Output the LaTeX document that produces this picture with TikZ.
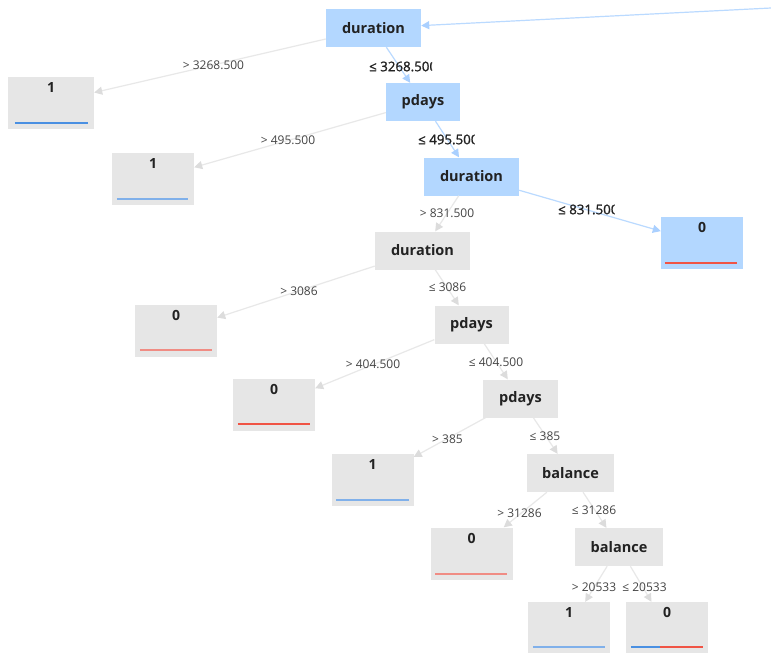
\documentclass[tikz,border=0pt]{standalone}
\usepackage{fontspec}
\setmainfont{Open Sans}
\newfontfamily\condfont[FakeBold=1.3]{Open Sans}
\usetikzlibrary{arrows.meta,calc}

\definecolor{nodeblue}{RGB}{179,215,255}
\definecolor{nodegray}{RGB}{230,230,230}
\definecolor{edgegray}{RGB}{232,232,232}
\definecolor{tipgray}{RGB}{220,220,220}
\definecolor{edgeblue}{RGB}{186,218,255}
\definecolor{tipblue}{RGB}{170,208,255}
\definecolor{ink}{RGB}{34,34,34}
\definecolor{labelink}{RGB}{68,68,68}
\definecolor{barblue}{RGB}{74,144,226}
\definecolor{barbluelight}{RGB}{128,176,234}
\definecolor{barred}{RGB}{240,84,69}
\definecolor{barredlight}{RGB}{240,140,132}

\tikzset{
  split/.style={rectangle, inner sep=0pt, minimum height=38,
    font=\fontsize{14.5}{16}\selectfont\bfseries, text=ink},
  splitblue/.style={split, fill=nodeblue},
  splitgray/.style={split, fill=nodegray},
  leafbox/.style={rectangle, inner sep=0pt, minimum width=82, minimum height=52},
  leafgray/.style={leafbox, fill=nodegray},
  leafblue/.style={leafbox, fill=nodeblue},
  leafnum/.style={inner sep=0pt, font=\fontsize{14}{16}\selectfont\bfseries, text=ink},
  bar/.style={line width=2pt},
  edgeg/.style={draw=edgegray, line width=1.2pt,
    -{Triangle[length=8pt,width=8pt,color=tipgray]}},
  edgeb/.style={draw=edgeblue, line width=1.2pt,
    -{Triangle[length=8pt,width=8pt,color=tipblue]}},
  cond/.style={inner sep=0pt, font=\fontsize{12}{14}\selectfont, text=labelink},
  condb/.style={inner sep=0pt, font=\fontsize{13.3}{15}\condfont, text=ink},
}

\begin{document}
\begin{tikzpicture}[x=1pt,y=-1pt]
\useasboundingbox[fill=white] (0,0) rectangle (771,653);

% split nodes
\node[splitblue, minimum width=95] (d1) at (373.5,28) {duration};
\node[splitblue, minimum width=74] (p1) at (423,102) {pdays};
\node[splitblue, minimum width=95] (d2) at (471.5,176.5) {duration};
\node[splitgray, minimum width=95] (d3) at (422.5,250.5) {duration};
\node[splitgray, minimum width=74] (p2) at (471.5,324.5) {pdays};
\node[splitgray, minimum width=75] (p3) at (520.5,398.5) {pdays};
\node[splitgray, minimum width=87] (b1) at (570.5,473) {balance};
\node[splitgray, minimum width=88] (b2) at (619,547) {balance};

% leaves
\node[leafgray, minimum width=86] (l1) at (51,102.5) {};
\node[leafgray] (l2) at (153,179) {};
\node[leafblue] (l3) at (702,243) {};
\node[leafgray] (l4) at (176,331) {};
\node[leafgray] (l5) at (274,405) {};
\node[leafgray] (l6) at (372.5,479.5) {};
\node[leafgray] (l7) at (471.5,553.5) {};
\node[leafgray] (l8) at (569,628) {};
\node[leafgray] (l9) at (667,628) {};

% leaf values
\node[leafnum] (v1) at ($(l1.north)+(0,11)$) {1};
\node[leafnum] (v2) at ($(l2.north)+(0,11)$) {1};
\node[leafnum] (v3) at ($(l3.north)+(0,11)$) {0};
\node[leafnum] (v4) at ($(l4.north)+(0,11)$) {0};
\node[leafnum] (v5) at ($(l5.north)+(0,11)$) {0};
\node[leafnum] (v6) at ($(l6.north)+(0,11)$) {1};
\node[leafnum] (v7) at ($(l7.north)+(0,11)$) {0};
\node[leafnum] (v8) at ($(l8.north)+(0,11)$) {1};
\node[leafnum] (v9) at ($(l9.north)+(0,11)$) {0};

% class bars
\draw[bar, barblue] ($(l1.south west)+(7,-6)$) -- ($(l1.south east)+(-6,-6)$);
\draw[bar, barbluelight] ($(l2.south west)+(5,-6)$) -- ($(l2.south east)+(-6,-6)$);
\draw[bar, barred] ($(l3.south west)+(4,-6)$) -- ($(l3.south east)+(-6,-6)$);
\draw[bar, barredlight] ($(l4.south west)+(5,-7)$) -- ($(l4.south east)+(-5,-7)$);
\draw[bar, barred] ($(l5.south west)+(5,-7)$) -- ($(l5.south east)+(-5,-7)$);
\draw[bar, barbluelight] ($(l6.south west)+(5,-6)$) -- ($(l6.south east)+(-5,-6)$);
\draw[bar, barredlight] ($(l7.south west)+(5,-6)$) -- ($(l7.south east)+(-6,-6)$);
\draw[bar, barbluelight] ($(l8.south west)+(5,-7)$) -- ($(l8.south east)+(-5,-7)$);
\draw[bar, barblue] ($(l9.south west)+(5,-7)$) -- ($(l9.south west)+(34,-7)$);
\draw[bar, barred] ($(l9.south west)+(34,-7)$) -- ($(l9.south east)+(-5,-7)$);

% incoming edge
\coordinate (root) at (771,8);
\draw[edgeb] (root) -- (d1);

% connectors
\draw[edgeg] (d1) -- (l1);
\draw[edgeb] (d1) -- (p1);
\draw[edgeg] (p1) -- (l2);
\draw[edgeb] (p1) -- (d2);
\draw[edgeb] (d2) -- (l3);
\draw[edgeg] (d2) -- (d3);
\draw[edgeg] (d3) -- (l4);
\draw[edgeg] (d3) -- (p2);
\draw[edgeg] (p2) -- (l5);
\draw[edgeg] (p2) -- (p3);
\draw[edgeg] (p3) -- (l6);
\draw[edgeg] (p3) -- (b1);
\draw[edgeg] (b1) -- (l7);
\draw[edgeg] (b1) -- (b2);
\draw[edgeg] (b2) -- (l8);
\draw[edgeg] (b2) -- (l9);

% conditions (the labels on the highlighted path are cut off at a fixed width)
\node[cond] (c1) at (213.5,65.5) {> 3268.500};
\begin{scope}
  \clip (360,55) rectangle (432,78);
  \node[condb, anchor=west] (c2) at (369,66.5) {≤ 3268.500};
\end{scope}
\node[cond] (c3) at (288,140.5) {> 495.500};
\begin{scope}
  \clip (410,129) rectangle (474.5,152);
  \node[condb, anchor=west] (c4) at (418,139.5) {≤ 495.500};
\end{scope}
\begin{scope}
  \clip (550,199) rectangle (614.5,222);
  \node[condb, anchor=west] (c5) at (558,209.5) {≤ 831.500};
\end{scope}
\node[cond] (c6) at (447,213) {> 831.500};
\node[cond] (c7) at (299,291) {> 3086};
\node[cond] (c8) at (447.5,287.5) {≤ 3086};
\node[cond] (c9) at (373,364.5) {> 404.500};
\node[cond] (c10) at (496,362.5) {≤ 404.500};
\node[cond] (c11) at (447.5,439.5) {> 385};
\node[cond] (c12) at (545,436) {≤ 385};
\node[cond] (c13) at (519.5,513.5) {> 31286};
\node[cond] (c14) at (594,510.5) {≤ 31286};
\node[cond] (c15) at (594,587.5) {> 20533};
\node[cond] (c16) at (644.5,587.5) {≤ 20533};
\end{tikzpicture}
\end{document}
